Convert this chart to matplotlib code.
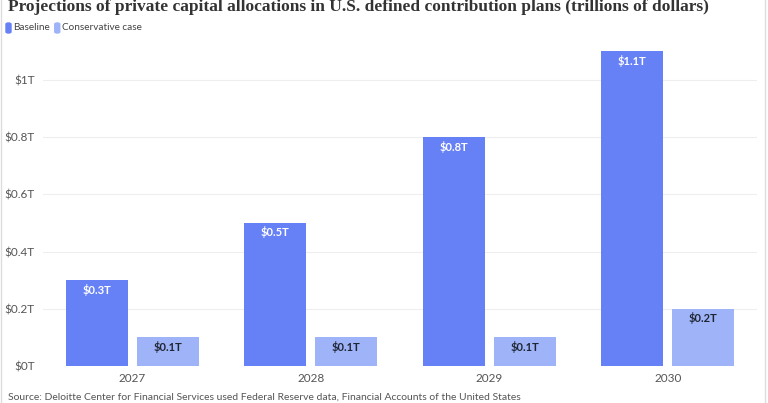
import matplotlib
matplotlib.use("Agg")
import matplotlib.pyplot as plt
from matplotlib.patches import FancyBboxPatch, Rectangle
import numpy as np

years = ["2027", "2028", "2029", "2030"]
baseline = [0.3, 0.5, 0.8, 1.1]
conservative = [0.1, 0.1, 0.1, 0.2]
yticks = [0, 0.2, 0.4, 0.6, 0.8, 1.0]
ytick_labels = ["$0T", "$0.2T", "$0.4T", "$0.6T", "$0.8T", "$1T"]
series_names = ["Baseline", "Conservative case"]
c_base = "#6680f6"
c_cons = "#9fb3f8"
title = "Projections of private capital allocations in U.S. defined contribution plans (trillions of dollars)"
source = "Source: Deloitte Center for Financial Services used Federal Reserve data, Financial Accounts of the United States"

plt.rcParams['font.family'] = ['Lato', 'DejaVu Sans']

W, H = 768, 403
fig = plt.figure(figsize=(W / 100, H / 100), dpi=100)
fig.patch.set_facecolor("white")

ax = fig.add_axes([43 / W, (H - 366) / H, (757 - 43) / W, (366 - 44) / H])
x = np.arange(len(years))
bw = 0.347
off = 0.199
b1 = ax.bar(x - off, baseline, bw, color=c_base, zorder=3)
b2 = ax.bar(x + off, conservative, bw, color=c_cons, zorder=3)

for rect, v in zip(b1, baseline):
    ax.text(rect.get_x() + rect.get_width() / 2, v - 0.012, f"${v:.1f}T",
            ha="center", va="top", color="white", fontsize=8, fontweight="bold", zorder=4)
for rect, v in zip(b2, conservative):
    ax.text(rect.get_x() + rect.get_width() / 2, v - 0.012, f"${v:.1f}T",
            ha="center", va="top", color="#1f2633", fontsize=8, fontweight="bold", zorder=4)

ax.set_xlim(-0.5, 3.5)
ax.set_ylim(0, 1.126)
ax.set_yticks(yticks)
ax.set_yticklabels(ytick_labels)
ax.set_xticks(x)
ax.set_xticklabels(years)
ax.tick_params(axis="both", length=0, labelsize=8.5, colors="#555555")
ax.tick_params(axis="y", pad=6)
ax.tick_params(axis="x", pad=5)
ax.grid(axis="y", color="#eeeeee", linewidth=0.8, zorder=0)
for s in ax.spines.values():
    s.set_visible(False)

fig.canvas.draw()
renderer = fig.canvas.get_renderer()

# title fitted to ~695 px width
tt = fig.text(8 / W, (H - 11) / H, title, fontsize=12, fontweight="bold", color="#333333",
              family=["Liberation Serif"], va="baseline", ha="left")
w = tt.get_window_extent(renderer).width
tt.set_fontsize(12 * 695 / w)

# legend
lx = 6
for name, col in zip(series_names, [c_base, c_cons]):
    fig.patches.append(FancyBboxPatch((lx / W, (H - 33) / H), 5 / W, 10 / H,
                                      boxstyle="round,pad=0,rounding_size=0.003",
                                      transform=fig.transFigure, color=col))
    t = fig.text((lx + 7) / W, (H - 28) / H, name, fontsize=7.2, color="#444444", va="center", ha="left")
    bb = t.get_window_extent(renderer)
    lx = bb.x1 + 5

fig.text(8 / W, (H - 397) / H, source, fontsize=7.5, color="#555555", va="center", ha="left")

fig.patches.append(Rectangle((1 / W, -0.1), (765 - 1) / W, 1.2, transform=fig.transFigure,
                             fill=False, edgecolor="#dddddd", linewidth=1))

fig.savefig("out.png", dpi=100)
